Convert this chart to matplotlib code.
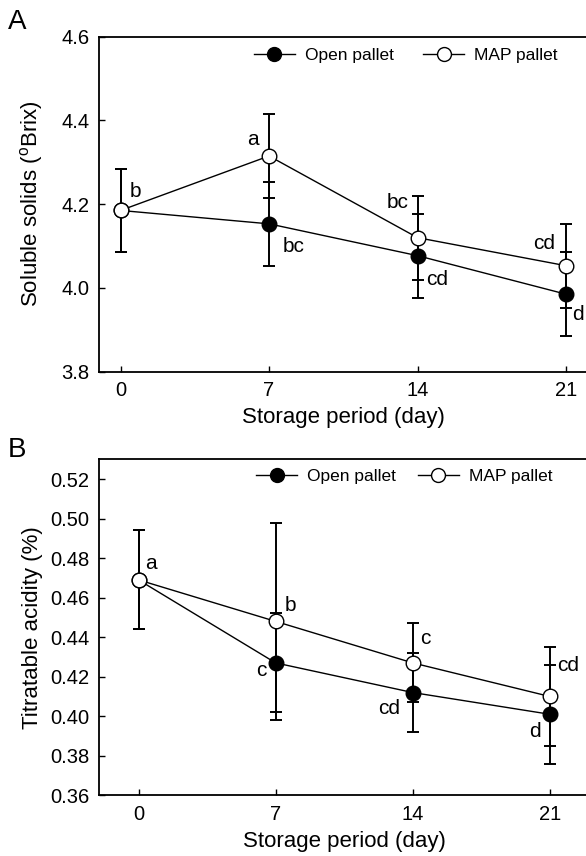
import matplotlib
matplotlib.use("Agg")
import matplotlib.pyplot as plt

plt.rcParams['font.family'] = ['Liberation Sans', 'DejaVu Sans']
plt.rcParams['mathtext.fontset'] = 'custom'
plt.rcParams['mathtext.rm'] = 'Liberation Sans'

# Storage days
days = [0, 7, 14, 21]
day_ticks = ['0', '7', '14', '21']

# Panel A: soluble solids (Brix)
ss_open = [4.185, 4.153, 4.077, 3.985]
ss_open_err = [0.10, 0.10, 0.10, 0.10]
ss_map = [4.185, 4.315, 4.120, 4.053]
ss_map_err = [0.10, 0.10, 0.10, 0.10]
ss_letters = ['b', 'a', 'bc', 'bc', 'cd', 'cd', 'd']
ss_letter_x = [0.69, 6.24, 8.15, 13.08, 14.93, 19.95, 21.54]
ss_letter_y = [4.231, 4.354, 4.099, 4.205, 4.021, 4.106, 3.937]

# Panel B: titratable acidity (%)
ta_open = [0.469, 0.427, 0.412, 0.401]
ta_open_err = [0.025, 0.025, 0.020, 0.025]
ta_map = [0.469, 0.448, 0.427, 0.410]
ta_map_err = [0.025, 0.050, 0.020, 0.025]
ta_letters = ['a', 'b', 'c', 'c', 'cd', 'cd', 'd']
ta_letter_x = [0.66, 7.78, 6.26, 14.62, 12.81, 21.93, 20.22]
ta_letter_y = [0.4771, 0.4561, 0.423, 0.4393, 0.404, 0.4259, 0.3923]


def draw_panel(ax, open_v, open_e, map_v, map_e, letters, lx, ly):
    for vals, errs in ((open_v, open_e), (map_v, map_e)):
        ax.errorbar(days, vals, yerr=errs, fmt='none', ecolor='black',
                    elinewidth=1.4, capsize=4.3, capthick=1.4, zorder=1)
    ax.plot(days, open_v, '-', color='black', lw=1.0, zorder=2)
    ax.plot(days, map_v, '-', color='black', lw=1.0, zorder=2)
    ax.plot(days, open_v, 'o', color='black', mfc='black', mec='black',
            ms=10.5, mew=1.0, zorder=3)
    ax.plot(days, map_v, 'o', color='black', mfc='white', mec='black',
            ms=10.5, mew=1.0, zorder=4)
    for t, x, y in zip(letters, lx, ly):
        ax.text(x, y, t, fontsize=15, ha='center', va='center', zorder=5)

    # legend proxies (line + marker)
    h1, = ax.plot([], [], '-o', color='black', mfc='black', ms=10, lw=1.0)
    h2, = ax.plot([], [], '-o', color='black', mfc='white', ms=10, lw=1.0)
    return h1, h2


fig = plt.figure(figsize=(5.86, 8.56), dpi=100)
axA = fig.add_axes([0.1695, 0.5658, 0.8326, 0.3914])
axB = fig.add_axes([0.1695, 0.0709, 0.8357, 0.3925])

hA = draw_panel(axA, ss_open, ss_open_err, ss_map, ss_map_err,
                ss_letters, ss_letter_x, ss_letter_y)
hB = draw_panel(axB, ta_open, ta_open_err, ta_map, ta_map_err,
                ta_letters, ta_letter_x, ta_letter_y)

axA.set_xlim(-1, 22)
axA.set_ylim(3.8, 4.6)
axA.set_yticks([3.8, 4.0, 4.2, 4.4, 4.6])
axA.set_yticklabels(['3.8', '4.0', '4.2', '4.4', '4.6'])
axA.set_ylabel('Soluble solids ($^{\\rm o}$Brix)', fontsize=16)

axB.set_xlim(-2, 23)
axB.set_ylim(0.36, 0.53)
axB.set_yticks([0.36, 0.38, 0.40, 0.42, 0.44, 0.46, 0.48, 0.50, 0.52])
axB.set_yticklabels(['0.36', '0.38', '0.40', '0.42', '0.44', '0.46',
                     '0.48', '0.50', '0.52'])
axB.set_ylabel('Titratable acidity (%)', fontsize=16)

for ax, h, lx, ly, cs, yl in ((axA, hA, 0.317, 0.945, 1.72, -0.111),
                              (axB, hB, 0.320, 0.950, 1.3, -0.115)):
    ax.set_xticks(days)
    ax.set_xticklabels(day_ticks)
    ax.set_xlabel('Storage period (day)', fontsize=16)
    ax.xaxis.set_label_coords(0.5, -0.105)
    ax.yaxis.set_label_coords(yl, 0.5)
    ax.tick_params(direction='in', length=4.5, width=1.0, labelsize=14.5,
                   pad=7, top=False, right=False)
    for side in ('top', 'left', 'bottom', 'right'):
        ax.spines[side].set_linewidth(1.3)
    ax.legend(h, ['Open pallet', 'MAP pallet'], ncol=2, frameon=False,
              fontsize=12.5, loc='center left', bbox_to_anchor=(lx, ly),
              borderaxespad=0, borderpad=0, handlelength=2.36,
              handletextpad=0.55, columnspacing=cs)

fig.text(8 / 586, 1 - 22 / 856, 'A', fontsize=20, ha='left', va='center')
fig.text(8 / 586, 1 - 450 / 856, 'B', fontsize=20, ha='left', va='center')

fig.savefig('out.png', dpi=100)
